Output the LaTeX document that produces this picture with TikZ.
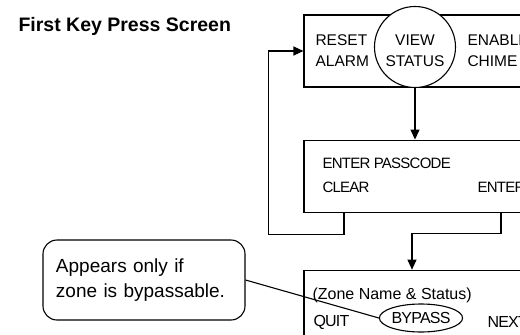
\documentclass[tikz,border=0pt]{standalone}
\usepackage{fontspec}
\setmainfont{Liberation Sans}
\newfontfamily\keyfont[LetterSpace=-5]{Liberation Sans}
\usetikzlibrary{positioning,arrows.meta,shapes.geometric}

\begin{document}
\begin{tikzpicture}[x=1pt,y=-1pt,line width=1.1pt,
	screen/.style={draw,minimum width=238pt,minimum height=72pt},
	keys/.style={inner sep=0pt,anchor=west,align=left,font=\fontsize{15.5}{21}\selectfont},
	narrowkeys/.style={inner sep=0pt,anchor=west,font=\keyfont\fontsize{15}{18}\selectfont},
	arr/.style={-{Triangle[length=10pt,width=9pt]}}]
		\useasboundingbox (0,0) rectangle (520,335);
		\clip (0,0) rectangle (520,335);

		% title
		\node[inner sep=0pt,anchor=west,font=\bfseries\fontsize{19.5}{22}\selectfont]	(title)		at (18,26)	{First Key Press Screen};

		% the three screens
		\node[screen]											(first)		at (423,51)	{};
		\node[screen,below=52pt of first]						(passcode)				{};
		\node[screen,below=57pt of passcode]					(zone)					{};

		\node[draw,circle,minimum size=81pt,fill=white]			(view)		at (415,47)	{};
		\node[keys]												(reset)		at (315,50.5)	{RESET\\ALARM};
		\node[keys,anchor=center,align=center]					(status)	at (415,50.5)	{VIEW\\STATUS};
		\node[keys]												(chime)		at (467,50.5)	{ENABLE\\CHIME};

		\node[narrowkeys]										(prompt)	at (322,163)	{ENTER PASSCODE};
		\node[narrowkeys]										(clear)		at (322,187)	{CLEAR};
		\node[narrowkeys]										(enter)		at (477,187)	{ENTER};

		\node[keys,font=\fontsize{16}{19}\selectfont]			(zonename)	at (312,295)	{(Zone Name \& Status)};
		\node[narrowkeys,font=\keyfont\fontsize{16}{19}\selectfont]	(quit)	at (313,322)	{QUIT};
		\node[draw,ellipse,minimum width=82pt,minimum height=28pt,inner sep=0pt,font=\keyfont\fontsize{16}{19}\selectfont]	(bypass)	at (421,318)	{BYPASS};
		\node[narrowkeys,font=\keyfont\fontsize{16}{19}\selectfont]	(next)	at (487,322)	{NEXT};

		% callout
		\node[draw,rounded corners=14pt,minimum width=202pt,minimum height=80pt,text width=176pt,align=left,font=\fontsize{19}{25}\selectfont]	(note)	at (144,280)	{Appears only if\\zone is bypassable.};

		\draw[arr] (view.south) -- (view.south |- passcode.north);
		\draw[arr] ([xshift=-79pt]passcode.south) -- ++(0,22) -| ([xshift=-35pt]first.west) -- (first.west);
		\draw[arr] ([xshift=78pt]passcode.south) -- ++(0,21) -| ([xshift=-11pt]zone.north);
		\draw (note.east) -- (bypass.west);
	\end{tikzpicture}
\end{document}
